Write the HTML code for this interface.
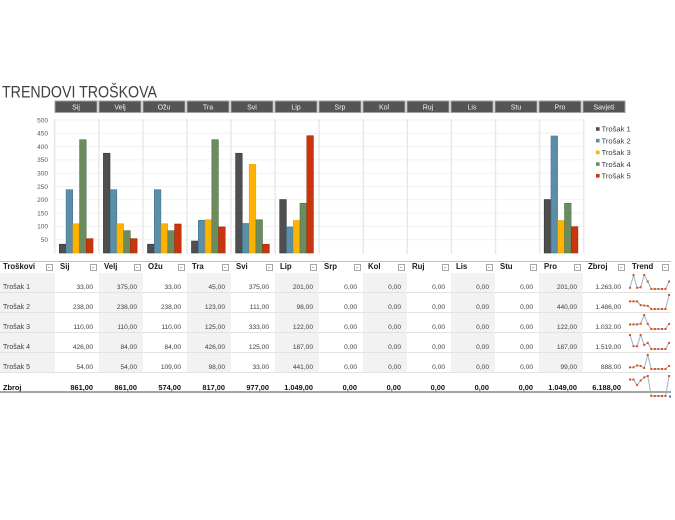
<!DOCTYPE html>
<html><head><meta charset="utf-8">
<style>
html,body{margin:0;padding:0;background:#fff;}
body{width:675px;height:520px;position:relative;overflow:hidden;font-family:"Liberation Sans",sans-serif;}
svg{position:absolute;}
.r{position:absolute;left:0;width:671px;display:flex;}
.c{flex:none;width:44px;box-sizing:border-box;padding-right:6px;text-align:right;font-size:6.6px;line-height:9px;color:#404040;position:relative;}
.c0{width:55px;text-align:left;padding-left:3px;padding-right:0;font-size:7px;}
.d .c{height:20px;padding-top:10px;border-bottom:1px solid #e3e3e3;}
.g{background:#f2f2f2;}
.h .c{height:12px;line-height:12px;font-weight:bold;font-size:7.8px;color:#1a1a1a;text-align:left;padding-left:5px;}
.h .c0{padding-left:3px;}
.h .c i{position:absolute;right:2px;top:3px;width:5px;height:5px;border:1px solid #a6a6a6;background:#fff;}
.h .c i:after{content:"";position:absolute;left:1px;top:2px;border-left:1.5px solid transparent;border-right:1.5px solid transparent;border-top:1.5px solid #666;}
.t .c{height:20px;padding-top:10px;border-bottom:2px solid #a5a5a5;font-weight:bold;font-size:7.4px;color:#111;}
</style></head><body>

<svg width="675" height="260" viewBox="0 0 675 260" style="left:0;top:0" font-family="Liberation Sans, sans-serif">
<text x="2" y="97.5" font-size="16.5" fill="#404040" textLength="155" lengthAdjust="spacingAndGlyphs">TRENDOVI TROŠKOVA</text>
<g fill="#555" stroke="#a0a0a0" stroke-width="1">
<rect x="55" y="101" width="42" height="11.5"/><rect x="99" y="101" width="42" height="11.5"/><rect x="143" y="101" width="42" height="11.5"/><rect x="187" y="101" width="42" height="11.5"/><rect x="231" y="101" width="42" height="11.5"/><rect x="275" y="101" width="42" height="11.5"/><rect x="319" y="101" width="42" height="11.5"/><rect x="363" y="101" width="42" height="11.5"/><rect x="407" y="101" width="42" height="11.5"/><rect x="451" y="101" width="42" height="11.5"/><rect x="495" y="101" width="42" height="11.5"/><rect x="539" y="101" width="42" height="11.5"/><rect x="583" y="101" width="42" height="11.5"/>
</g>
<g fill="#f2f2f2" font-size="7" text-anchor="middle">
<text x="76" y="109.5">Sij</text><text x="120" y="109.5">Velj</text><text x="164" y="109.5">Ožu</text><text x="208" y="109.5">Tra</text><text x="252" y="109.5">Svi</text><text x="296" y="109.5">Lip</text><text x="340" y="109.5">Srp</text><text x="384" y="109.5">Kol</text><text x="428" y="109.5">Ruj</text><text x="472" y="109.5">Lis</text><text x="516" y="109.5">Stu</text><text x="560" y="109.5">Pro</text><text x="604" y="109.5">Savjeti</text>
</g>
<g stroke="#f1f1f1" stroke-width="1">
<line x1="55" x2="584" y1="239.7" y2="239.7"/><line x1="55" x2="584" y1="226.4" y2="226.4"/><line x1="55" x2="584" y1="213.1" y2="213.1"/><line x1="55" x2="584" y1="199.8" y2="199.8"/><line x1="55" x2="584" y1="186.5" y2="186.5"/><line x1="55" x2="584" y1="173.2" y2="173.2"/><line x1="55" x2="584" y1="159.9" y2="159.9"/><line x1="55" x2="584" y1="146.6" y2="146.6"/><line x1="55" x2="584" y1="133.3" y2="133.3"/><line x1="55" x2="584" y1="120" y2="120"/>
</g>
<g stroke="#e9e9e9" stroke-width="1.5">
<line x1="54.7" x2="54.7" y1="119" y2="254"/><line x1="98.8" x2="98.8" y1="119" y2="254"/><line x1="142.9" x2="142.9" y1="119" y2="254"/><line x1="186.9" x2="186.9" y1="119" y2="254"/><line x1="231" x2="231" y1="119" y2="254"/><line x1="275.1" x2="275.1" y1="119" y2="254"/><line x1="319.2" x2="319.2" y1="119" y2="254"/><line x1="363.3" x2="363.3" y1="119" y2="254"/><line x1="407.3" x2="407.3" y1="119" y2="254"/><line x1="451.4" x2="451.4" y1="119" y2="254"/><line x1="495.5" x2="495.5" y1="119" y2="254"/><line x1="539.6" x2="539.6" y1="119" y2="254"/><line x1="583.7" x2="583.7" y1="119" y2="254"/>
</g>
<g fill="#595959" font-size="6.5" text-anchor="end">
<text x="48" y="242">50</text><text x="48" y="228.7">100</text><text x="48" y="215.4">150</text><text x="48" y="202.1">200</text><text x="48" y="188.8">250</text><text x="48" y="175.5">300</text><text x="48" y="162.2">350</text><text x="48" y="148.9">400</text><text x="48" y="135.6">450</text><text x="48" y="122.3">500</text>
</g>
<!-- Trošak 1 -->
<g fill="#4f4f4f" stroke="#363636" stroke-width="0.6">
<rect x="59.3" y="244.22" width="6.6" height="8.78"/>
<rect x="103.4" y="153.25" width="6.6" height="99.75"/>
<rect x="147.5" y="244.22" width="6.6" height="8.78"/>
<rect x="191.5" y="241.03" width="6.6" height="11.97"/>
<rect x="235.6" y="153.25" width="6.6" height="99.75"/>
<rect x="279.7" y="199.53" width="6.6" height="53.47"/>
<rect x="544.2" y="199.53" width="6.6" height="53.47"/>
</g>
<!-- Trošak 2 -->
<g fill="#5b8ea8" stroke="#46768e" stroke-width="0.6">
<rect x="66.1" y="189.69" width="6.6" height="63.31"/>
<rect x="110.2" y="189.69" width="6.6" height="63.31"/>
<rect x="154.3" y="189.69" width="6.6" height="63.31"/>
<rect x="198.3" y="220.28" width="6.6" height="32.72"/>
<rect x="242.4" y="223.47" width="6.6" height="29.53"/>
<rect x="286.5" y="226.93" width="6.6" height="26.07"/>
<rect x="551" y="135.96" width="6.6" height="117.04"/>
</g>
<!-- Trošak 3 -->
<g fill="#ffb300" stroke="#e9a200" stroke-width="0.6">
<rect x="72.9" y="223.74" width="6.6" height="29.26"/>
<rect x="117" y="223.74" width="6.6" height="29.26"/>
<rect x="161.1" y="223.74" width="6.6" height="29.26"/>
<rect x="205.1" y="219.75" width="6.6" height="33.25"/>
<rect x="249.2" y="164.42" width="6.6" height="88.58"/>
<rect x="293.3" y="220.55" width="6.6" height="32.45"/>
<rect x="557.8" y="220.55" width="6.6" height="32.45"/>
</g>
<!-- Trošak 4 -->
<g fill="#6a8c5e" stroke="#55754a" stroke-width="0.6">
<rect x="79.6" y="139.68" width="6.6" height="113.32"/>
<rect x="123.7" y="230.66" width="6.6" height="22.34"/>
<rect x="167.8" y="230.66" width="6.6" height="22.34"/>
<rect x="211.8" y="139.68" width="6.6" height="113.32"/>
<rect x="255.9" y="219.75" width="6.6" height="33.25"/>
<rect x="300" y="203.26" width="6.6" height="49.74"/>
<rect x="564.5" y="203.26" width="6.6" height="49.74"/>
</g>
<!-- Trošak 5 -->
<g fill="#c9350c" stroke="#a82a08" stroke-width="0.6">
<rect x="86.4" y="238.64" width="6.6" height="14.36"/>
<rect x="130.5" y="238.64" width="6.6" height="14.36"/>
<rect x="174.6" y="224.01" width="6.6" height="28.99"/>
<rect x="218.6" y="226.93" width="6.6" height="26.07"/>
<rect x="262.7" y="244.22" width="6.6" height="8.78"/>
<rect x="306.8" y="135.69" width="6.6" height="117.31"/>
<rect x="571.3" y="226.67" width="6.6" height="26.33"/>
</g>
<!-- Legend -->
<rect x="596" y="127.2" width="3.6" height="3.6" fill="#4f4f4f"/>
<rect x="596" y="138.9" width="3.6" height="3.6" fill="#5b8ea8"/>
<rect x="596" y="150.6" width="3.6" height="3.6" fill="#ffb300"/>
<rect x="596" y="162.3" width="3.6" height="3.6" fill="#6a8c5e"/>
<rect x="596" y="174" width="3.6" height="3.6" fill="#c9350c"/>
<g fill="#404040" font-size="7.6">
<text x="601.5" y="131.7">Trošak 1</text>
<text x="601.5" y="143.4">Trošak 2</text>
<text x="601.5" y="155.1">Trošak 3</text>
<text x="601.5" y="166.8">Trošak 4</text>
<text x="601.5" y="178.5">Trošak 5</text>
</g>
</svg>

<div style="position:absolute;left:0;top:260.5px;width:671px;height:1px;background:#bfbfbf"></div>

<div class="r h" style="top:261px">
<div class="c c0">Troškovi<i></i></div><div class="c">Sij<i></i></div><div class="c">Velj<i></i></div><div class="c">Ožu<i></i></div><div class="c">Tra<i></i></div><div class="c">Svi<i></i></div><div class="c">Lip<i></i></div><div class="c">Srp<i></i></div><div class="c">Kol<i></i></div><div class="c">Ruj<i></i></div><div class="c">Lis<i></i></div><div class="c">Stu<i></i></div><div class="c">Pro<i></i></div><div class="c">Zbroj<i></i></div><div class="c">Trend<i></i></div>
</div>

<div class="r d" style="top:273px">
<div class="c c0 g">Trošak 1</div><div class="c">33,00</div><div class="c g">375,00</div><div class="c">33,00</div><div class="c g">45,00</div><div class="c">375,00</div><div class="c g">201,00</div><div class="c">0,00</div><div class="c g">0,00</div><div class="c">0,00</div><div class="c g">0,00</div><div class="c">0,00</div><div class="c g">201,00</div><div class="c">1.263,00</div><div class="c"></div>
</div>
<div class="r d" style="top:293px">
<div class="c c0 g">Trošak 2</div><div class="c">238,00</div><div class="c g">238,00</div><div class="c">238,00</div><div class="c g">123,00</div><div class="c">111,00</div><div class="c g">98,00</div><div class="c">0,00</div><div class="c g">0,00</div><div class="c">0,00</div><div class="c g">0,00</div><div class="c">0,00</div><div class="c g">440,00</div><div class="c">1.486,00</div><div class="c"></div>
</div>
<div class="r d" style="top:313px">
<div class="c c0 g">Trošak 3</div><div class="c">110,00</div><div class="c g">110,00</div><div class="c">110,00</div><div class="c g">125,00</div><div class="c">333,00</div><div class="c g">122,00</div><div class="c">0,00</div><div class="c g">0,00</div><div class="c">0,00</div><div class="c g">0,00</div><div class="c">0,00</div><div class="c g">122,00</div><div class="c">1.032,00</div><div class="c"></div>
</div>
<div class="r d" style="top:333px">
<div class="c c0 g">Trošak 4</div><div class="c">426,00</div><div class="c g">84,00</div><div class="c">84,00</div><div class="c g">426,00</div><div class="c">125,00</div><div class="c g">187,00</div><div class="c">0,00</div><div class="c g">0,00</div><div class="c">0,00</div><div class="c g">0,00</div><div class="c">0,00</div><div class="c g">187,00</div><div class="c">1.519,00</div><div class="c"></div>
</div>
<div class="r d" style="top:353px">
<div class="c c0 g">Trošak 5</div><div class="c">54,00</div><div class="c g">54,00</div><div class="c">109,00</div><div class="c g">98,00</div><div class="c">33,00</div><div class="c g">441,00</div><div class="c">0,00</div><div class="c g">0,00</div><div class="c">0,00</div><div class="c g">0,00</div><div class="c">0,00</div><div class="c g">99,00</div><div class="c">888,00</div><div class="c"></div>
</div>
<div class="r t" style="top:373px">
<div class="c c0">Zbroj</div><div class="c">861,00</div><div class="c">861,00</div><div class="c">574,00</div><div class="c">817,00</div><div class="c">977,00</div><div class="c">1.049,00</div><div class="c">0,00</div><div class="c">0,00</div><div class="c">0,00</div><div class="c">0,00</div><div class="c">0,00</div><div class="c">1.049,00</div><div class="c">6.188,00</div><div class="c"></div>
</div>

<svg width="48" height="140" viewBox="0 0 48 140" style="left:627px;top:261px">
<g fill="none" stroke="#9fb3c2" stroke-width="1">
<polyline points="3,26.8 6.55,14 10.1,26.8 13.65,26.3 17.2,14 20.75,20.5 24.3,28 27.85,28 31.4,28 34.95,28 38.5,28 42.05,20.5"/>
<polyline points="3,40.4 6.55,40.4 10.1,40.4 13.65,44.1 17.2,44.5 20.75,44.9 24.3,48 27.85,48 31.4,48 34.95,48 38.5,48 42.05,34"/>
<polyline points="3,63.4 6.55,63.4 10.1,63.4 13.65,62.7 17.2,54 20.75,62.9 24.3,68 27.85,68 31.4,68 34.95,68 38.5,68 42.05,62.9"/>
<polyline points="3,74 6.55,85.2 10.1,85.2 13.65,74 17.2,83.9 20.75,81.9 24.3,88 27.85,88 31.4,88 34.95,88 38.5,88 42.05,81.9"/>
<polyline points="3,106.3 6.55,106.3 10.1,104.5 13.65,104.9 17.2,107 20.75,94 24.3,108 27.85,108 31.4,108 34.95,108 38.5,108 42.05,104.9"/>
<polyline points="3,118.6 6.55,118.6 10.1,124 13.65,119.4 17.2,116.4 20.75,115 24.3,135 27.85,135 31.4,135 34.95,135 38.5,135 42.05,115"/>
</g>
<g fill="#d9531e">
<rect x="2" y="25.8" width="2" height="2"/><rect x="5.55" y="13" width="2" height="2"/><rect x="9.1" y="25.8" width="2" height="2"/><rect x="12.65" y="25.3" width="2" height="2"/><rect x="16.2" y="13" width="2" height="2"/><rect x="19.75" y="19.5" width="2" height="2"/><rect x="23.3" y="27" width="2" height="2"/><rect x="26.85" y="27" width="2" height="2"/><rect x="30.4" y="27" width="2" height="2"/><rect x="33.95" y="27" width="2" height="2"/><rect x="37.5" y="27" width="2" height="2"/><rect x="41.05" y="19.5" width="2" height="2"/>
<rect x="2" y="39.4" width="2" height="2"/><rect x="5.55" y="39.4" width="2" height="2"/><rect x="9.1" y="39.4" width="2" height="2"/><rect x="12.65" y="43.1" width="2" height="2"/><rect x="16.2" y="43.5" width="2" height="2"/><rect x="19.75" y="43.9" width="2" height="2"/><rect x="23.3" y="47" width="2" height="2"/><rect x="26.85" y="47" width="2" height="2"/><rect x="30.4" y="47" width="2" height="2"/><rect x="33.95" y="47" width="2" height="2"/><rect x="37.5" y="47" width="2" height="2"/><rect x="41.05" y="33" width="2" height="2"/>
<rect x="2" y="62.4" width="2" height="2"/><rect x="5.55" y="62.4" width="2" height="2"/><rect x="9.1" y="62.4" width="2" height="2"/><rect x="12.65" y="61.7" width="2" height="2"/><rect x="16.2" y="53" width="2" height="2"/><rect x="19.75" y="61.9" width="2" height="2"/><rect x="23.3" y="67" width="2" height="2"/><rect x="26.85" y="67" width="2" height="2"/><rect x="30.4" y="67" width="2" height="2"/><rect x="33.95" y="67" width="2" height="2"/><rect x="37.5" y="67" width="2" height="2"/><rect x="41.05" y="61.9" width="2" height="2"/>
<rect x="2" y="73" width="2" height="2"/><rect x="5.55" y="84.2" width="2" height="2"/><rect x="9.1" y="84.2" width="2" height="2"/><rect x="12.65" y="73" width="2" height="2"/><rect x="16.2" y="82.9" width="2" height="2"/><rect x="19.75" y="80.9" width="2" height="2"/><rect x="23.3" y="87" width="2" height="2"/><rect x="26.85" y="87" width="2" height="2"/><rect x="30.4" y="87" width="2" height="2"/><rect x="33.95" y="87" width="2" height="2"/><rect x="37.5" y="87" width="2" height="2"/><rect x="41.05" y="80.9" width="2" height="2"/>
<rect x="2" y="105.3" width="2" height="2"/><rect x="5.55" y="105.3" width="2" height="2"/><rect x="9.1" y="103.5" width="2" height="2"/><rect x="12.65" y="103.9" width="2" height="2"/><rect x="16.2" y="106" width="2" height="2"/><rect x="19.75" y="93" width="2" height="2"/><rect x="23.3" y="107" width="2" height="2"/><rect x="26.85" y="107" width="2" height="2"/><rect x="30.4" y="107" width="2" height="2"/><rect x="33.95" y="107" width="2" height="2"/><rect x="37.5" y="107" width="2" height="2"/><rect x="41.05" y="103.9" width="2" height="2"/>
<rect x="2" y="117.6" width="2" height="2"/><rect x="5.55" y="117.6" width="2" height="2"/><rect x="9.1" y="123" width="2" height="2"/><rect x="12.65" y="118.4" width="2" height="2"/><rect x="16.2" y="115.4" width="2" height="2"/><rect x="19.75" y="114" width="2" height="2"/><rect x="23.3" y="134" width="2" height="2"/><rect x="26.85" y="134" width="2" height="2"/><rect x="30.4" y="134" width="2" height="2"/><rect x="33.95" y="134" width="2" height="2"/><rect x="37.5" y="134" width="2" height="2"/><rect x="41.05" y="114" width="2" height="2"/>
</g>
<rect x="42" y="134.5" width="2" height="2" fill="#2f6fc0"/>
</svg>

</body></html>
